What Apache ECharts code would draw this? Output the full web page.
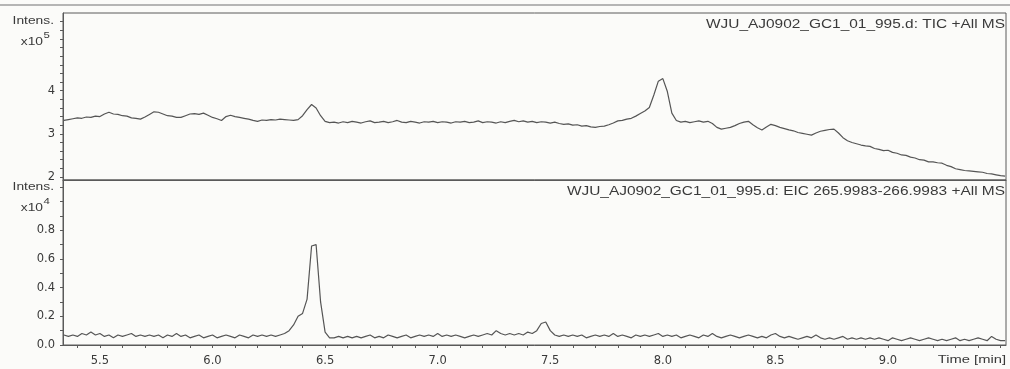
<!DOCTYPE html>
<html>
<head>
<meta charset="utf-8">
<script src="https://cdn.jsdelivr.net/npm/echarts@6/dist/echarts.min.js"></script>
<style>
  html, body { margin: 0; padding: 0; background: #fbfbf9; }
  #chart { width: 1010px; height: 369px; }
</style>
</head>
<body>
<div id="chart"></div>
<script>
// Scan grid of the run (minutes)
const scanStart = 5.34;
const scanStep = 0.02;

// TIC +All MS, intensity x10^5 (one row = 10 scans = 0.2 min)
const ticIntensity = [
  3.31, 3.33, 3.35, 3.37, 3.36, 3.39, 3.38, 3.41, 3.40, 3.46,  // 5.34
  3.50, 3.46, 3.45, 3.42, 3.41, 3.37, 3.36, 3.34, 3.39, 3.45,  // 5.54
  3.51, 3.50, 3.46, 3.42, 3.41, 3.38, 3.38, 3.42, 3.46, 3.47,  // 5.74
  3.45, 3.48, 3.43, 3.38, 3.35, 3.31, 3.40, 3.43, 3.40, 3.38,  // 5.94
  3.36, 3.34, 3.31, 3.29, 3.32, 3.31, 3.33, 3.32, 3.34, 3.33,  // 6.14
  3.32, 3.31, 3.33, 3.42, 3.56, 3.68, 3.60, 3.42, 3.29, 3.26,  // 6.34
  3.27, 3.25, 3.28, 3.26, 3.29, 3.27, 3.25, 3.28, 3.30, 3.26,  // 6.54
  3.27, 3.29, 3.26, 3.28, 3.31, 3.27, 3.26, 3.29, 3.27, 3.25,  // 6.74
  3.28, 3.27, 3.29, 3.26, 3.28, 3.27, 3.25, 3.28, 3.27, 3.29,  // 6.94
  3.26, 3.27, 3.30, 3.26, 3.28, 3.27, 3.25, 3.28, 3.26, 3.29,  // 7.14
  3.31, 3.28, 3.30, 3.27, 3.29, 3.26, 3.28, 3.27, 3.25, 3.27,  // 7.34
  3.24, 3.22, 3.23, 3.20, 3.21, 3.18, 3.19, 3.16, 3.15, 3.17,  // 7.54
  3.18, 3.21, 3.25, 3.30, 3.31, 3.34, 3.36, 3.41, 3.47, 3.53,  // 7.74
  3.61, 3.90, 4.22, 4.28, 3.98, 3.48, 3.31, 3.27, 3.29, 3.26,  // 7.94
  3.28, 3.30, 3.27, 3.29, 3.24, 3.15, 3.11, 3.13, 3.15, 3.19,  // 8.14
  3.24, 3.27, 3.29, 3.21, 3.14, 3.09, 3.16, 3.22, 3.19, 3.15,  // 8.34
  3.12, 3.09, 3.07, 3.03, 3.01, 2.99, 2.97, 3.02, 3.06, 3.08,  // 8.54
  3.10, 3.11, 3.02, 2.91, 2.84, 2.80, 2.77, 2.74, 2.72, 2.71,  // 8.74
  2.66, 2.64, 2.61, 2.62, 2.57, 2.55, 2.51, 2.50, 2.46, 2.44,  // 8.94
  2.40, 2.39, 2.35, 2.35, 2.33, 2.32, 2.27, 2.24, 2.19, 2.17,  // 9.14
  2.15, 2.14, 2.13, 2.12, 2.11, 2.08, 2.07, 2.05, 2.03, 2.02   // 9.34
];

// EIC 265.9983-266.9983 +All MS, intensity x10^4
const eicIntensity = [
  0.07, 0.06, 0.07, 0.06, 0.08, 0.07, 0.09, 0.07, 0.08, 0.06,  // 5.34
  0.07, 0.05, 0.07, 0.06, 0.07, 0.08, 0.06, 0.07, 0.06, 0.07,  // 5.54
  0.06, 0.07, 0.05, 0.07, 0.06, 0.08, 0.06, 0.07, 0.05, 0.06,  // 5.74
  0.07, 0.05, 0.06, 0.07, 0.05, 0.06, 0.07, 0.06, 0.05, 0.07,  // 5.94
  0.06, 0.05, 0.07, 0.06, 0.07, 0.06, 0.07, 0.06, 0.07, 0.08,  // 6.14
  0.10, 0.14, 0.20, 0.22, 0.32, 0.69, 0.70, 0.30, 0.09, 0.05,  // 6.34
  0.05, 0.06, 0.05, 0.06, 0.05, 0.06, 0.05, 0.06, 0.07, 0.05,  // 6.54
  0.06, 0.05, 0.07, 0.06, 0.05, 0.06, 0.07, 0.05, 0.06, 0.07,  // 6.74
  0.06, 0.07, 0.06, 0.08, 0.06, 0.07, 0.06, 0.07, 0.06, 0.05,  // 6.94
  0.06, 0.07, 0.06, 0.07, 0.08, 0.07, 0.10, 0.08, 0.07, 0.08,  // 7.14
  0.07, 0.08, 0.07, 0.09, 0.08, 0.10, 0.15, 0.16, 0.10, 0.07,  // 7.34
  0.06, 0.07, 0.06, 0.07, 0.06, 0.07, 0.05, 0.06, 0.07, 0.06,  // 7.54
  0.07, 0.06, 0.08, 0.06, 0.07, 0.06, 0.05, 0.07, 0.06, 0.07,  // 7.74
  0.06, 0.07, 0.08, 0.06, 0.07, 0.06, 0.07, 0.05, 0.06, 0.07,  // 7.94
  0.06, 0.05, 0.07, 0.06, 0.08, 0.06, 0.05, 0.06, 0.07, 0.06,  // 8.14
  0.05, 0.06, 0.07, 0.06, 0.05, 0.06, 0.05, 0.07, 0.08, 0.06,  // 8.34
  0.05, 0.06, 0.05, 0.04, 0.05, 0.06, 0.05, 0.07, 0.05, 0.04,  // 8.54
  0.05, 0.04, 0.05, 0.06, 0.04, 0.05, 0.04, 0.05, 0.04, 0.05,  // 8.74
  0.04, 0.05, 0.04, 0.03, 0.05, 0.04, 0.03, 0.04, 0.05, 0.04,  // 8.94
  0.03, 0.04, 0.05, 0.04, 0.03, 0.04, 0.03, 0.04, 0.05, 0.03,  // 9.14
  0.04, 0.03, 0.04, 0.05, 0.04, 0.03, 0.06, 0.04, 0.03, 0.03   // 9.34
];

// Axis labels and tick positions
const timeLabels = [5.5, 6.0, 6.5, 7.0, 7.5, 8.0, 8.5, 9.0];
const timeTicks = [5.4, 5.5, 5.6, 5.7, 5.8, 5.9, 6.0, 6.1, 6.2, 6.3, 6.4, 6.5, 6.6, 6.7,
  6.8, 6.9, 7.0, 7.1, 7.2, 7.3, 7.4, 7.5, 7.6, 7.7, 7.8, 7.9, 8.0, 8.1, 8.2, 8.3, 8.4,
  8.5, 8.6, 8.7, 8.8, 8.9, 9.0, 9.1, 9.2, 9.3, 9.4, 9.5];
const ticLabels = [2, 3, 4];
const ticTicks = [2.0, 2.2, 2.4, 2.6, 2.8, 3.0, 3.2, 3.4, 3.6, 3.8, 4.0, 4.2, 4.4, 4.6,
  4.8, 5.0, 5.2, 5.4, 5.6];
const eicLabels = [0.0, 0.2, 0.4, 0.6, 0.8];
const eicTicks = [0.0, 0.1, 0.2, 0.3, 0.4, 0.5, 0.6, 0.7, 0.8, 0.9, 1.0, 1.1];

const ticTitle = 'WJU_AJ0902_GC1_01_995.d: TIC +All MS';
const eicTitle = 'WJU_AJ0902_GC1_01_995.d: EIC 265.9983-266.9983 +All MS';

const toPairs = arr => arr.map((v, i) => [scanStart + i * scanStep, v]);

const ink = '#3a3a3a';
const frame = '#5a5a5a';
const font = 'Liberation Sans, Arial, sans-serif';
const tickFont = 'DejaVu Sans, sans-serif';

const chart = echarts.init(document.getElementById('chart'), null, { renderer: 'canvas' });

const timeMin = 5.336, timeMax = 9.524;

function xAxisCfg(grid, withLabels) {
  return {
    type: 'value', gridIndex: grid, min: timeMin, max: timeMax,
    axisLine: { show: true, lineStyle: { color: frame, width: 1 } },
    axisTick: withLabels ? { show: true, customValues: timeTicks, length: 3, lineStyle: { color: frame } } : { show: false },
    axisLabel: withLabels ? {
      show: true, customValues: timeLabels, margin: 10,
      formatter: v => v.toFixed(1), color: ink, fontSize: 11.5, fontFamily: tickFont
    } : { show: false },
    splitLine: { show: false }
  };
}

function yAxisCfg(grid, min, max, labels, ticks, digits) {
  return {
    type: 'value', gridIndex: grid, min: min, max: max,
    axisLine: { show: true, lineStyle: { color: frame, width: 1 } },
    axisTick: { show: true, customValues: ticks, length: 3, lineStyle: { color: frame } },
    axisLabel: {
      show: true, customValues: labels, margin: 8,
      formatter: v => v.toFixed(digits), color: ink, fontSize: 11.5, fontFamily: tickFont
    },
    splitLine: { show: false }
  };
}

// Caption text, stretched horizontally about its anchor point
function txt(x, y, text, opts, sx) {
  return {
    type: 'text', x: x, y: y, scaleX: sx || 1, silent: true,
    style: Object.assign({ text: text, fill: ink, font: '11.5px ' + font, textVerticalAlign: 'middle' }, opts || {})
  };
}

chart.setOption({
  animation: false,
  backgroundColor: '#fbfbf9',
  grid: [
    { left: 63, right: 4, top: 13, height: 167, show: true, borderColor: frame, borderWidth: 1, backgroundColor: 'transparent' },
    { left: 63, right: 4, top: 180, height: 165, show: true, borderColor: frame, borderWidth: 1, backgroundColor: 'transparent' }
  ],
  xAxis: [xAxisCfg(0, false), xAxisCfg(1, true)],
  yAxis: [
    yAxisCfg(0, 1.93, 5.8, ticLabels, ticTicks, 0),
    yAxisCfg(1, 0, 1.15, eicLabels, eicTicks, 1)
  ],
  series: [
    {
      name: 'TIC', type: 'line', xAxisIndex: 0, yAxisIndex: 0,
      data: toPairs(ticIntensity), showSymbol: false,
      lineStyle: { color: '#555', width: 1.2 }
    },
    {
      name: 'EIC', type: 'line', xAxisIndex: 1, yAxisIndex: 1,
      data: toPairs(eicIntensity), showSymbol: false,
      lineStyle: { color: '#555', width: 1.2 }
    }
  ],
  graphic: [
    { type: 'line', silent: true, shape: { x1: 0, y1: 5, x2: 1010, y2: 5 }, style: { stroke: '#b5b5b5', lineWidth: 2 } },
    // y-axis captions
    txt(54, 21, 'Intens.', { textAlign: 'right' }, 1.2),
    txt(43, 42, 'x10', { textAlign: 'right' }, 1.2),
    txt(43.5, 35, '5', { textAlign: 'left', font: '9.5px ' + font }, 1.2),
    txt(54, 187, 'Intens.', { textAlign: 'right' }, 1.2),
    txt(43, 208, 'x10', { textAlign: 'right' }, 1.2),
    txt(43.5, 201, '4', { textAlign: 'left', font: '9.5px ' + font }, 1.2),
    // trace captions
    txt(1005, 25, ticTitle, { textAlign: 'right', font: '12.5px ' + font }, 1.235),
    txt(1005, 192, eicTitle, { textAlign: 'right', font: '12.5px ' + font }, 1.235),
    txt(1006, 360, 'Time [min]', { textAlign: 'right', font: '11.5px ' + font }, 1.28)
  ]
});
</script>
</body>
</html>
